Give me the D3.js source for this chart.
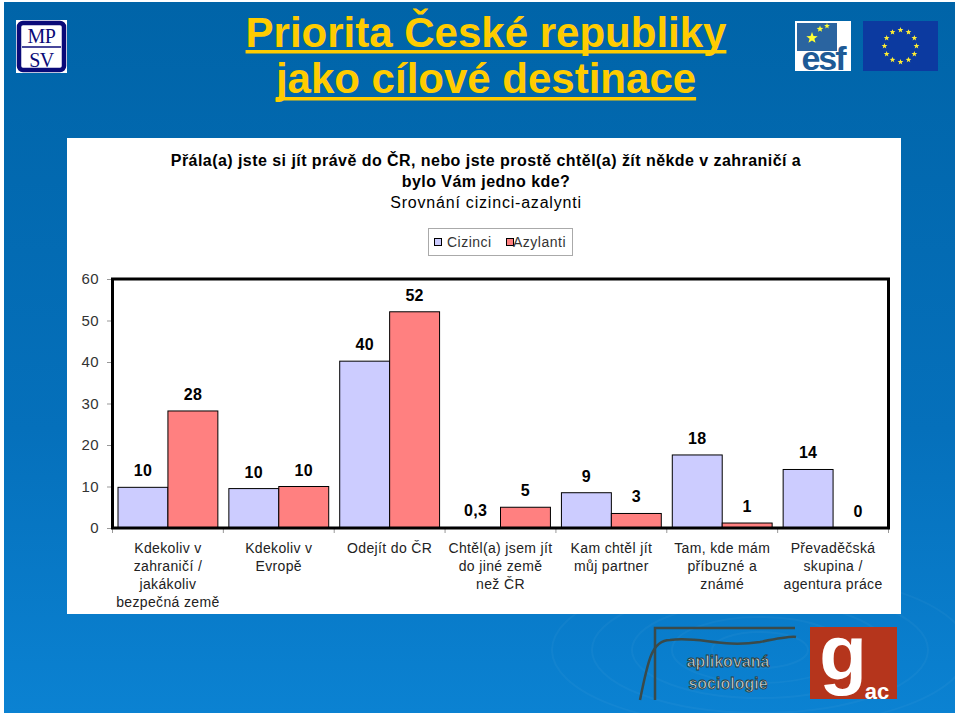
<!DOCTYPE html>
<html><head><meta charset="utf-8">
<script src="https://cdn.jsdelivr.net/npm/d3@7"></script>
<style>html,body{margin:0;padding:0;background:#fff;}svg{display:block;}</style>
</head><body>
<svg id="c" width="960" height="716"></svg>
<script>
// ---- data ----
const categories = [
  ["Kdekoliv v", "zahraničí /", "jakákoliv", "bezpečná země"],
  ["Kdekoliv v", "Evropě"],
  ["Odejít do ČR"],
  ["Chtěl(a) jsem jít", "do jiné země", "než ČR"],
  ["Kam chtěl jít", "můj partner"],
  ["Tam, kde mám", "příbuzné a", "známé"],
  ["Převaděčská", "skupina /", "agentura práce"]
];
const seriesNames = ["Cizinci", "Azylanti"];
const cizinci = [9.8, 9.5, 40.2, 0.3, 8.5, 17.6, 14.1];
const azylanti = [28.2, 10.0, 52.1, 5.0, 3.5, 1.2, 0];
const cizinciLabels = ["10", "10", "40", "0,3", "9", "18", "14"];
const azylantiLabels = ["28", "10", "52", "5", "3", "1", "0"];
const yTicks = [0, 10, 20, 30, 40, 50, 60];
const titleLines = ["Priorita České republiky", "jako cílové destinace"];
const subtitleLines = ["Přála(a) jste si jít právě do ČR, nebo jste prostě chtěl(a) žít někde v zahraničí a", "bylo Vám jedno kde?"];
const subtitle2 = "Srovnání cizinci-azalynti";
const seriesColors = ["#CCCCFF", "#FF8080"];

const svg = d3.select("#c");
const defs = svg.append("defs");
const grad = defs.append("linearGradient").attr("id", "bg").attr("x1", 0).attr("y1", 0).attr("x2", 0).attr("y2", 1);
grad.append("stop").attr("offset", 0).attr("stop-color", "#0064a8");
grad.append("stop").attr("offset", 0.6).attr("stop-color", "#0570bb");
grad.append("stop").attr("offset", 1).attr("stop-color", "#0b82d2");

// background
svg.append("rect").attr("x", 4).attr("y", 2).attr("width", 951).attr("height", 711).attr("fill", "url(#bg)");
// faint ripples
const rip = svg.append("g").attr("fill", "none").attr("stroke", "#ffffff").attr("stroke-opacity", 0.035).attr("stroke-width", 2);
[30, 55, 80, 105, 130].forEach(r => rip.append("ellipse").attr("cx", 760).attr("cy", 650).attr("rx", r * 1.6).attr("ry", r * 0.6));

// title
const title = svg.append("g").attr("font-family", "Liberation Sans, Arial, sans-serif").attr("font-weight", "bold")
  .attr("font-size", 42).attr("fill", "#FFCC00").attr("text-anchor", "middle");
titleLines.forEach((t, i) => {
  const tx = title.append("text").attr("x", 486).attr("y", 47 + i * 46).text(t);
  const w = tx.node().getComputedTextLength();
  title.append("rect").attr("x", 486 - w / 2).attr("y", 50 + i * 47).attr("width", w).attr("height", 3.5);
});

// MPSV logo
const mp = svg.append("g");
mp.append("rect").attr("x", 16).attr("y", 20).attr("width", 51).attr("height", 53).attr("fill", "#fff");
mp.append("rect").attr("x", 19).attr("y", 23).attr("width", 45).attr("height", 47).attr("rx", 4).attr("fill", "none").attr("stroke", "#0a0a78").attr("stroke-width", 4.5);
mp.append("line").attr("x1", 22).attr("x2", 61).attr("y1", 47).attr("y2", 47).attr("stroke", "#0a0a78").attr("stroke-width", 1.5);
mp.append("text").attr("x", 41.5).attr("y", 43).attr("text-anchor", "middle").attr("font-family", "Liberation Serif, serif").attr("font-size", 20).attr("letter-spacing", -0.5).attr("fill", "#0a0a78").text("MP");
mp.append("text").attr("x", 41.5).attr("y", 67).attr("text-anchor", "middle").attr("font-family", "Liberation Serif, serif").attr("font-size", 20).attr("letter-spacing", -0.5).attr("fill", "#0a0a78").text("SV");

// ESF logo
const esf = svg.append("g");
esf.append("rect").attr("x", 795).attr("y", 21).attr("width", 56).attr("height", 50).attr("fill", "#fff");
esf.append("rect").attr("x", 797).attr("y", 23).attr("width", 40).attr("height", 28).attr("fill", "#2a64a0");
function star(g, cx, cy, r, fill) {
  const pts = d3.range(10).map(k => {
    const a = -Math.PI / 2 + k * Math.PI / 5, rr = k % 2 ? r * 0.42 : r;
    return [cx + rr * Math.cos(a), cy + rr * Math.sin(a)];
  });
  g.append("polygon").attr("points", pts.map(p => p.join(",")).join(" ")).attr("fill", fill);
}
star(esf, 812, 38, 6, "#ffff33");
star(esf, 820, 29, 3.5, "#ffff33");
star(esf, 827, 26, 3, "#ffff33");
esf.append("text").attr("x", 823).attr("y", 70).attr("text-anchor", "middle").attr("font-family", "Liberation Sans, Arial, sans-serif")
  .attr("font-weight", "bold").attr("font-size", 34).attr("letter-spacing", -2).attr("fill", "#1d5a96").text("esf");

// EU flag
const eu = svg.append("g");
eu.append("rect").attr("x", 863).attr("y", 21).attr("width", 75).attr("height", 50).attr("fill", "#0c3aa0");
d3.range(12).forEach(k => {
  const a = k * Math.PI / 6;
  star(eu, 900.5 + 16 * Math.cos(a), 46 + 16 * Math.sin(a), 3, "#ffee33");
});

// white panel
svg.append("rect").attr("x", 67).attr("y", 138).attr("width", 834).attr("height", 476).attr("fill", "#fff");

// subtitle
const sub = svg.append("g").attr("font-family", "Liberation Sans, Arial, sans-serif").attr("text-anchor", "middle").attr("fill", "#000");
subtitleLines.forEach((t, i) => {
  sub.append("text").attr("x", 486).attr("y", 166 + i * 21).attr("font-size", 16).attr("letter-spacing", 0.45).attr("font-weight", "bold").text(t);
});
sub.append("text").attr("x", 486).attr("y", 208).attr("font-size", 16).attr("letter-spacing", 0.8).text(subtitle2);

// scales
const x0 = d3.scaleBand().domain(d3.range(categories.length)).range([112.5, 888.5]).padding(0);
const x1 = d3.scaleBand().domain(seriesNames).range([5.5, x0.bandwidth() - 5.5]).padding(0);
const y = d3.scaleLinear().domain([0, 60]).range([528, 279]);

// axes
const fontAxis = "Liberation Sans, Arial, sans-serif";
const yAxis = svg.append("g").attr("transform", "translate(112,0)")
  .call(d3.axisLeft(y).tickValues(yTicks).tickSize(5).tickPadding(8).tickFormat(d3.format("d")));
yAxis.select(".domain").remove();
yAxis.selectAll(".tick line").attr("stroke", "#999");
yAxis.selectAll(".tick text").attr("font-family", fontAxis).attr("font-size", 15).attr("letter-spacing", 0.4).attr("fill", "#333");

const xAxis = svg.append("g").attr("transform", "translate(0,528)");
xAxis.selectAll("line.xt").data(d3.range(categories.length + 1)).join("line")
  .attr("x1", i => i < categories.length ? x0(i) : x0.range()[1])
  .attr("x2", i => i < categories.length ? x0(i) : x0.range()[1])
  .attr("y1", 0).attr("y2", 5).attr("stroke", "#999");
const catLabels = xAxis.selectAll("text.cat").data(categories).join("text")
  .attr("class", "cat").attr("text-anchor", "middle").attr("font-family", fontAxis).attr("font-size", 14).attr("letter-spacing", 0.35).attr("fill", "#222")
  .attr("x", (d, i) => x0(i) + x0.bandwidth() / 2).attr("y", 25);
catLabels.selectAll("tspan").data(d => d).join("tspan")
  .attr("x", function () { return d3.select(this.parentNode).attr("x"); })
  .attr("dy", (d, i) => i === 0 ? 0 : 18).text(d => d);

// bars
const series = [cizinci, azylanti];
const seriesLabels = [cizinciLabels, azylantiLabels];
const groups = svg.append("g").selectAll("g").data(categories.map((c, i) => i)).join("g")
  .attr("transform", i => `translate(${x0(i)},0)`);
groups.selectAll("rect").data(i => seriesNames.map((s, k) => ({ s, k, v: series[k][i] }))).join("rect")
  .attr("x", d => x1(d.s)).attr("width", x1.bandwidth())
  .attr("y", d => y(d.v)).attr("height", d => y(0) - y(d.v))
  .attr("fill", d => seriesColors[d.k]).attr("stroke", d => d.v > 0.5 ? "#000" : "none").attr("stroke-width", 1);
groups.selectAll("text").data(i => seriesNames.map((s, k) => ({ s, k, v: series[k][i], l: seriesLabels[k][i] }))).join("text")
  .attr("x", d => x1(d.s) + x1.bandwidth() / 2).attr("y", d => y(d.v) - 11)
  .attr("text-anchor", "middle").attr("font-family", fontAxis).attr("font-weight", "bold").attr("font-size", 16).attr("letter-spacing", 0.3).attr("fill", "#000")
  .text(d => d.l);

// plot frame
svg.append("rect").attr("x", 112.5).attr("y", 279).attr("width", 776).attr("height", 249)
  .attr("fill", "none").attr("stroke", "#000").attr("stroke-width", 3);

// legend
const lg = svg.append("g").attr("font-family", fontAxis).attr("font-size", 14).attr("letter-spacing", 0.5).attr("fill", "#333");
lg.append("rect").attr("x", 428.5).attr("y", 228.5).attr("width", 144).attr("height", 27).attr("fill", "#fff").attr("stroke", "#aaa");
const legItems = [{ x: 434, tx: 447 }, { x: 506, tx: 513 }];
seriesNames.forEach((s, k) => {
  lg.append("rect").attr("x", legItems[k].x + 0.5).attr("y", 238.5).attr("width", 7).attr("height", 7)
    .attr("fill", seriesColors[k]).attr("stroke", "#000").attr("stroke-width", 1);
  lg.append("text").attr("x", legItems[k].tx).attr("y", 247).text(s);
});

// bottom logo: aplikovaná sociologie
const ap = svg.append("g");
ap.append("path").attr("d", "M655,700 L655,628 L795,628").attr("fill", "none").attr("stroke", "#3a4a4a").attr("stroke-width", 2.5);
ap.append("path").attr("d", "M640,700 C648,660 652,640 670,640 C700,636 720,648 760,642 C780,638 790,636 796,637")
  .attr("fill", "none").attr("stroke", "#3a4a4a").attr("stroke-width", 2.5);
ap.append("text").attr("x", 728).attr("y", 667).attr("text-anchor", "middle").attr("font-family", fontAxis).attr("font-weight", "bold")
  .attr("font-size", 16).attr("fill", "#c4d0d0").attr("stroke", "#2a3a3a").attr("stroke-width", 0.8).text("aplikovaná");
ap.append("text").attr("x", 728).attr("y", 689).attr("text-anchor", "middle").attr("font-family", fontAxis).attr("font-weight", "bold")
  .attr("font-size", 16).attr("fill", "#c4d0d0").attr("stroke", "#2a3a3a").attr("stroke-width", 0.8).text("sociologie");

// gac logo
const gac = svg.append("g");
gac.append("rect").attr("x", 810).attr("y", 627).attr("width", 87).attr("height", 72).attr("fill", "#b5351c");
gac.append("text").attr("x", 843).attr("y", 680).attr("text-anchor", "middle").attr("font-family", fontAxis).attr("font-weight", "bold")
  .attr("font-size", 78).attr("fill", "#fff").text("g");
gac.append("text").attr("x", 877).attr("y", 699).attr("text-anchor", "middle").attr("font-family", fontAxis).attr("font-weight", "bold")
  .attr("font-size", 22).attr("fill", "#fff").text("ac");
</script>
</body></html>
